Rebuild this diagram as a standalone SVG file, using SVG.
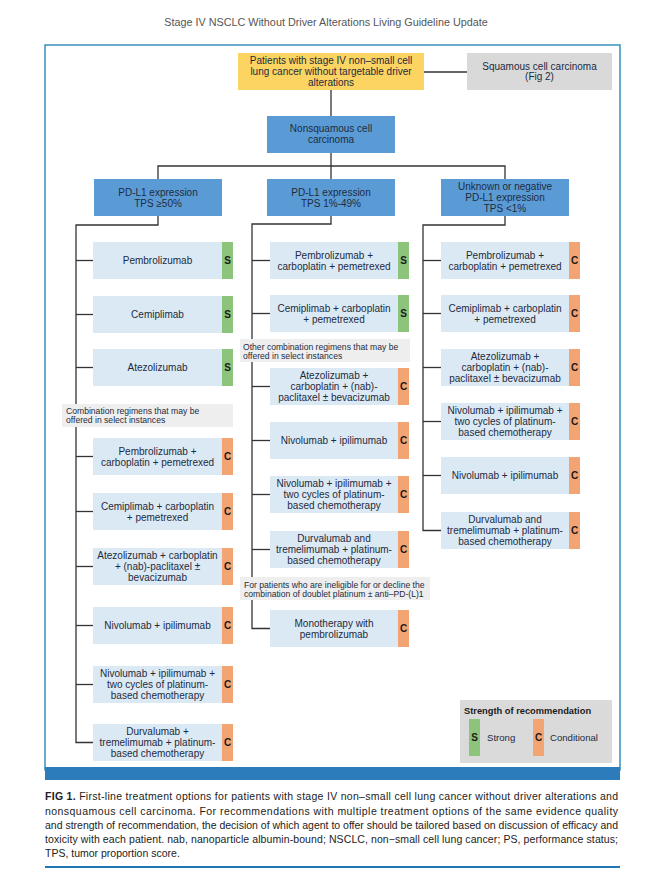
<svg xmlns="http://www.w3.org/2000/svg" width="653" height="893" viewBox="0 0 653 893">
<style>
text{font-family:"Liberation Sans",Arial,sans-serif;}
.bg{fill:#ffffff;}
.frame{fill:#ffffff;stroke:#3a8fbf;stroke-width:1.5;}
.title{font-size:10.8px;fill:#555;text-anchor:middle;}
.yel{fill:#fcd462;}
.gry{fill:#d9d9d9;}
.hdr{fill:#5b9bd5;}
.box{fill:#dbe9f5;}
.s{fill:#8cc47b;}
.c{fill:#f3a473;}
.lbl{fill:#eeeeee;}
.t{font-size:10px;fill:#1d2b3e;text-anchor:middle;}
.tag{font-size:10px;font-weight:bold;fill:#1a1a1a;text-anchor:middle;}
.lt{font-size:8.6px;fill:#1d2b3e;}
.conn line,.conn polyline{stroke:#333;stroke-width:1.3;fill:none;}
.cap{font-size:10.5px;fill:#222;}
</style>
<rect class="bg" x="0" y="0" width="653" height="893"/>
<text class="title" x="326" y="26">Stage IV NSCLC Without Driver Alterations Living Guideline Update</text>
<rect class="frame" x="45" y="45" width="575" height="725"/>
<rect x="45" y="767" width="575" height="13" fill="#2c7bbb"/>

<g class="conn" id="connectors">
<line x1="424" y1="72" x2="467" y2="72"/>
<line x1="331" y1="90" x2="331" y2="116"/>
<line x1="331" y1="153" x2="331" y2="179"/>
<polyline points="158,179 158,166 505,166 505,179"/>
<polyline points="158,216 158,225 76,225 76,742.5 93,742.5"/>
<line x1="76" y1="260.5" x2="93" y2="260.5"/>
<line x1="76" y1="314.5" x2="93" y2="314.5"/>
<line x1="76" y1="367.5" x2="93" y2="367.5"/>
<line x1="76" y1="456.5" x2="93" y2="456.5"/>
<line x1="76" y1="511.5" x2="93" y2="511.5"/>
<line x1="76" y1="566.5" x2="93" y2="566.5"/>
<line x1="76" y1="625.5" x2="93" y2="625.5"/>
<line x1="76" y1="684.5" x2="93" y2="684.5"/>
<polyline points="331,216 331,224 252,224 252,628.5 270,628.5"/>
<line x1="252" y1="260.5" x2="270" y2="260.5"/>
<line x1="252" y1="313.5" x2="270" y2="313.5"/>
<line x1="252" y1="386.5" x2="270" y2="386.5"/>
<line x1="252" y1="440.5" x2="270" y2="440.5"/>
<line x1="252" y1="494.5" x2="270" y2="494.5"/>
<line x1="252" y1="549.5" x2="270" y2="549.5"/>
<polyline points="505,216 505,225 423,225 423,530.5 441,530.5"/>
<line x1="423" y1="260.5" x2="441" y2="260.5"/>
<line x1="423" y1="313.5" x2="441" y2="313.5"/>
<line x1="423" y1="367.5" x2="441" y2="367.5"/>
<line x1="423" y1="421.5" x2="441" y2="421.5"/>
<line x1="423" y1="475.5" x2="441" y2="475.5"/>
</g>

<g id="patients">
<rect class="yel" x="238" y="53" width="186" height="37"/>
<text class="t" x="331" y="64">Patients with stage IV non–small cell</text>
<text class="t" x="331" y="75">lung cancer without targetable driver</text>
<text class="t" x="331" y="86">alterations</text>
</g>
<g id="squamous">
<rect class="gry" x="467" y="53" width="145" height="37"/>
<text class="t" x="539.5" y="69.5">Squamous cell carcinoma</text>
<text class="t" x="539.5" y="80">(Fig 2)</text>
</g>
<g id="nonsquamous">
<rect class="hdr" x="267" y="116" width="128" height="37"/>
<text class="t" x="331" y="132">Nonsquamous cell</text>
<text class="t" x="331" y="143">carcinoma</text>
</g>
<g id="hdr1">
<rect class="hdr" x="94" y="179" width="128" height="37"/>
<text class="t" x="158" y="195.5">PD-L1 expression</text>
<text class="t" x="158" y="206.5">TPS ≥50%</text>
</g>
<g id="hdr2">
<rect class="hdr" x="267" y="179" width="128" height="37"/>
<text class="t" x="331" y="195.5">PD-L1 expression</text>
<text class="t" x="331" y="206.5">TPS 1%-49%</text>
</g>
<g id="hdr3">
<rect class="hdr" x="441" y="179" width="128" height="37"/>
<text class="t" x="505" y="190">Unknown or negative</text>
<text class="t" x="505" y="201">PD-L1 expression</text>
<text class="t" x="505" y="212">TPS &lt;1%</text>
</g>

<!-- Column 1 -->
<g id="c1n1"><rect class="box" x="93" y="242" width="129" height="37"/><rect class="s" x="222" y="242" width="11" height="37"/>
<text class="t" x="157.5" y="264">Pembrolizumab</text><text class="tag" x="227.5" y="264">S</text></g>
<g id="c1n2"><rect class="box" x="93" y="296" width="129" height="37"/><rect class="s" x="222" y="296" width="11" height="37"/>
<text class="t" x="157.5" y="318">Cemiplimab</text><text class="tag" x="227.5" y="318">S</text></g>
<g id="c1n3"><rect class="box" x="93" y="349" width="129" height="37"/><rect class="s" x="222" y="349" width="11" height="37"/>
<text class="t" x="157.5" y="371">Atezolizumab</text><text class="tag" x="227.5" y="371">S</text></g>
<g id="c1lbl"><rect class="lbl" x="62" y="404" width="171" height="23"/>
<text class="lt" x="66" y="413.5">Combination regimens that may be</text>
<text class="lt" x="66" y="422.5">offered in select instances</text></g>
<g id="c1n4"><rect class="box" x="93" y="438" width="129" height="37"/><rect class="c" x="222" y="438" width="11" height="37"/>
<text class="t" x="157.5" y="454.5">Pembrolizumab +</text><text class="t" x="157.5" y="465.5">carboplatin + pemetrexed</text><text class="tag" x="227.5" y="460">C</text></g>
<g id="c1n5"><rect class="box" x="93" y="493" width="129" height="37"/><rect class="c" x="222" y="493" width="11" height="37"/>
<text class="t" x="157.5" y="509.5">Cemiplimab + carboplatin</text><text class="t" x="157.5" y="520.5">+ pemetrexed</text><text class="tag" x="227.5" y="515">C</text></g>
<g id="c1n6"><rect class="box" x="93" y="548" width="129" height="37"/><rect class="c" x="222" y="548" width="11" height="37"/>
<text class="t" x="157.5" y="559">Atezolizumab + carboplatin</text><text class="t" x="157.5" y="570">+ (nab)-paclitaxel ±</text><text class="t" x="157.5" y="581">bevacizumab</text><text class="tag" x="227.5" y="570">C</text></g>
<g id="c1n7"><rect class="box" x="93" y="607" width="129" height="37"/><rect class="c" x="222" y="607" width="11" height="37"/>
<text class="t" x="157.5" y="629">Nivolumab + ipilimumab</text><text class="tag" x="227.5" y="629">C</text></g>
<g id="c1n8"><rect class="box" x="93" y="666" width="129" height="37"/><rect class="c" x="222" y="666" width="11" height="37"/>
<text class="t" x="157.5" y="677">Nivolumab + ipilimumab +</text><text class="t" x="157.5" y="688">two cycles of platinum-</text><text class="t" x="157.5" y="699">based chemotherapy</text><text class="tag" x="227.5" y="688">C</text></g>
<g id="c1n9"><rect class="box" x="93" y="724" width="129" height="37"/><rect class="c" x="222" y="724" width="11" height="37"/>
<text class="t" x="157.5" y="735">Durvalumab +</text><text class="t" x="157.5" y="746">tremelimumab + platinum-</text><text class="t" x="157.5" y="757">based chemotherapy</text><text class="tag" x="227.5" y="746">C</text></g>

<!-- Column 2 -->
<g id="c2n1"><rect class="box" x="270" y="242" width="128" height="37"/><rect class="s" x="398" y="242" width="11" height="37"/>
<text class="t" x="334" y="258.5">Pembrolizumab +</text><text class="t" x="334" y="269.5">carboplatin + pemetrexed</text><text class="tag" x="403.5" y="264">S</text></g>
<g id="c2n2"><rect class="box" x="270" y="295" width="128" height="37"/><rect class="s" x="398" y="295" width="11" height="37"/>
<text class="t" x="334" y="311.5">Cemiplimab + carboplatin</text><text class="t" x="334" y="322.5">+ pemetrexed</text><text class="tag" x="403.5" y="317">S</text></g>
<g id="c2lbl1"><rect class="lbl" x="240" y="339" width="170" height="23"/>
<text class="lt" x="243" y="349.5">Other combination regimens that may be</text>
<text class="lt" x="243" y="358.5">offered in select instances</text></g>
<g id="c2n3"><rect class="box" x="270" y="368" width="128" height="37"/><rect class="c" x="398" y="368" width="11" height="37"/>
<text class="t" x="334" y="379">Atezolizumab +</text><text class="t" x="334" y="390">carboplatin + (nab)-</text><text class="t" x="334" y="401">paclitaxel ± bevacizumab</text><text class="tag" x="403.5" y="390">C</text></g>
<g id="c2n4"><rect class="box" x="270" y="422" width="128" height="37"/><rect class="c" x="398" y="422" width="11" height="37"/>
<text class="t" x="334" y="444">Nivolumab + ipilimumab</text><text class="tag" x="403.5" y="444">C</text></g>
<g id="c2n5"><rect class="box" x="270" y="476" width="128" height="37"/><rect class="c" x="398" y="476" width="11" height="37"/>
<text class="t" x="334" y="487">Nivolumab + ipilimumab +</text><text class="t" x="334" y="498">two cycles of platinum-</text><text class="t" x="334" y="509">based chemotherapy</text><text class="tag" x="403.5" y="498">C</text></g>
<g id="c2n6"><rect class="box" x="270" y="531" width="128" height="37"/><rect class="c" x="398" y="531" width="11" height="37"/>
<text class="t" x="334" y="542">Durvalumab and</text><text class="t" x="334" y="553">tremelimumab + platinum-</text><text class="t" x="334" y="564">based chemotherapy</text><text class="tag" x="403.5" y="553">C</text></g>
<g id="c2lbl2"><rect class="lbl" x="240" y="577" width="190" height="23"/>
<text class="lt" x="244" y="587.5">For patients who are ineligible for or decline the</text>
<text class="lt" x="244" y="596.5">combination of doublet platinum ± anti–PD-(L)1</text></g>
<g id="c2n7"><rect class="box" x="270" y="610" width="128" height="37"/><rect class="c" x="398" y="610" width="11" height="37"/>
<text class="t" x="334" y="626.5">Monotherapy with</text><text class="t" x="334" y="637.5">pembrolizumab</text><text class="tag" x="403.5" y="632">C</text></g>

<!-- Column 3 -->
<g id="c3n1"><rect class="box" x="441" y="242" width="128" height="37"/><rect class="c" x="569" y="242" width="11" height="37"/>
<text class="t" x="505" y="258.5">Pembrolizumab +</text><text class="t" x="505" y="269.5">carboplatin + pemetrexed</text><text class="tag" x="574.5" y="264">C</text></g>
<g id="c3n2"><rect class="box" x="441" y="295" width="128" height="37"/><rect class="c" x="569" y="295" width="11" height="37"/>
<text class="t" x="505" y="311.5">Cemiplimab + carboplatin</text><text class="t" x="505" y="322.5">+ pemetrexed</text><text class="tag" x="574.5" y="317">C</text></g>
<g id="c3n3"><rect class="box" x="441" y="349" width="128" height="37"/><rect class="c" x="569" y="349" width="11" height="37"/>
<text class="t" x="505" y="360">Atezolizumab +</text><text class="t" x="505" y="371">carboplatin + (nab)-</text><text class="t" x="505" y="382">paclitaxel ± bevacizumab</text><text class="tag" x="574.5" y="371">C</text></g>
<g id="c3n4"><rect class="box" x="441" y="403" width="128" height="37"/><rect class="c" x="569" y="403" width="11" height="37"/>
<text class="t" x="505" y="414">Nivolumab + ipilimumab +</text><text class="t" x="505" y="425">two cycles of platinum-</text><text class="t" x="505" y="436">based chemotherapy</text><text class="tag" x="574.5" y="425">C</text></g>
<g id="c3n5"><rect class="box" x="441" y="457" width="128" height="37"/><rect class="c" x="569" y="457" width="11" height="37"/>
<text class="t" x="505" y="479">Nivolumab + ipilimumab</text><text class="tag" x="574.5" y="479">C</text></g>
<g id="c3n6"><rect class="box" x="441" y="512" width="128" height="37"/><rect class="c" x="569" y="512" width="11" height="37"/>
<text class="t" x="505" y="523">Durvalumab and</text><text class="t" x="505" y="534">tremelimumab + platinum-</text><text class="t" x="505" y="545">based chemotherapy</text><text class="tag" x="574.5" y="534">C</text></g>

<!-- Legend -->
<g id="legend">
<rect x="460" y="700" width="152" height="63" fill="#dadada"/>
<text x="464" y="714" font-size="9.3px" font-weight="bold" fill="#1a1a1a">Strength of recommendation</text>
<rect class="s" x="469" y="719" width="11" height="37"/>
<text class="tag" x="474.5" y="741">S</text>
<text x="487" y="741" font-size="9.6px" fill="#1d2b3e">Strong</text>
<rect class="c" x="533" y="719" width="11" height="37"/>
<text class="tag" x="538.5" y="741">C</text>
<text x="550" y="741" font-size="9.6px" fill="#1d2b3e">Conditional</text>
</g>

<!-- Caption -->
<g id="caption">
<text class="cap" x="45" y="800" textLength="573" lengthAdjust="spacing"><tspan font-weight="bold">FIG 1.</tspan> First-line treatment options for patients with stage IV non–small cell lung cancer without driver alterations and</text>
<text class="cap" x="45" y="814.5" textLength="573" lengthAdjust="spacing">nonsquamous cell carcinoma. For recommendations with multiple treatment options of the same evidence quality</text>
<text class="cap" x="45" y="828.5" textLength="573" lengthAdjust="spacingAndGlyphs">and strength of recommendation, the decision of which agent to offer should be tailored based on discussion of efficacy and</text>
<text class="cap" x="45" y="842.5" textLength="573" lengthAdjust="spacing">toxicity with each patient. nab, nanoparticle albumin-bound; NSCLC, non−small cell lung cancer; PS, performance status;</text>
<text class="cap" x="45" y="857">TPS, tumor proportion score.</text>
<rect x="45" y="866" width="575" height="2" fill="#1f77b4"/>
</g>
</svg>
